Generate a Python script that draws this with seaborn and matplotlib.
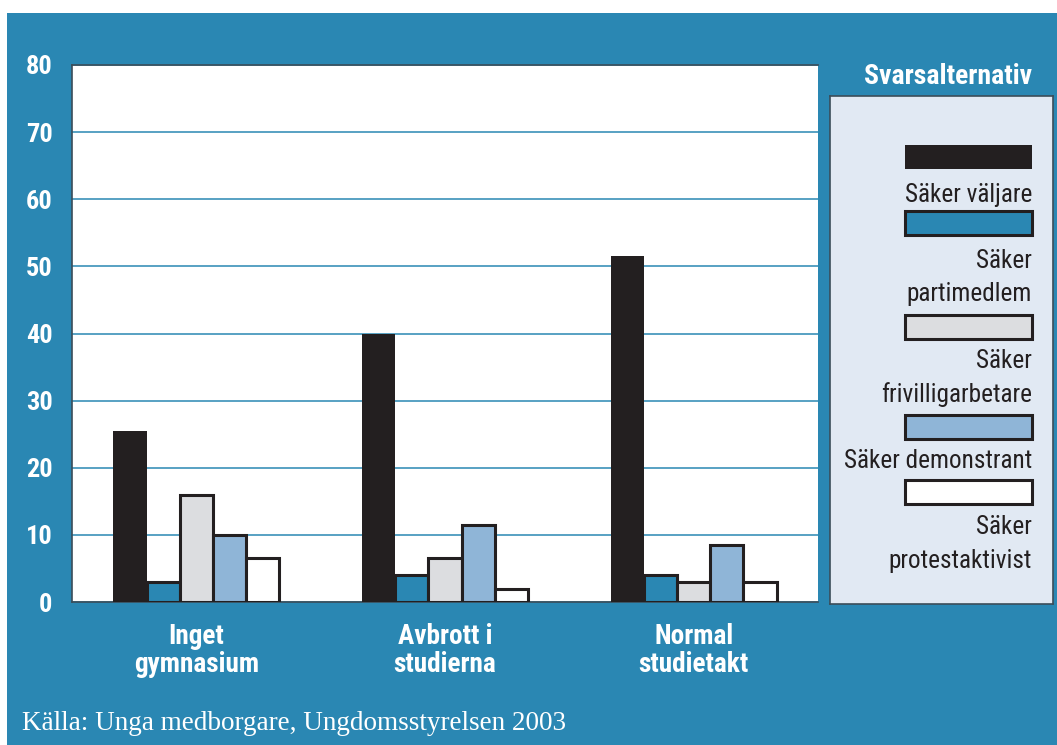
import matplotlib
matplotlib.use("Agg")
import matplotlib.pyplot as plt
from matplotlib.patches import Rectangle
from matplotlib import font_manager
import seaborn as sns
import pandas as pd

categories = ["Inget\ngymnasium", "Avbrott i\nstudierna", "Normal\nstudietakt"]
series = ["Säker väljare", "Säker partimedlem", "Säker frivilligarbetare",
          "Säker demonstrant", "Säker protestaktivist"]
legend_labels = ["Säker väljare", "Säker\npartimedlem", "Säker\nfrivilligarbetare",
                 "Säker demonstrant", "Säker\nprotestaktivist"]
values_valjare = [25.5, 40.0, 51.5]
values_parti = [3.0, 4.0, 4.0]
values_frivillig = [16.0, 6.5, 3.0]
values_demonstrant = [10.0, 11.5, 8.5]
values_protest = [6.5, 2.0, 3.0]
yticks = [0, 10, 20, 30, 40, 50, 60, 70, 80]
source_text = "Källa: Unga medborgare, Ungdomsstyrelsen 2003"
legend_title = "Svarsalternativ"

colors = ["#231f20", "#2a87b3", "#dcdde0", "#8fb5d7", "#ffffff"]
BLUE = "#2a87b3"
DARK = "#231f20"

sns.set_theme(style="white")
installed = {f.name for f in font_manager.fontManager.ttflist}
fams = [f for f in ["Roboto Condensed", "Liberation Sans Narrow", "Roboto"] if f in installed]
plt.rcParams['font.family'] = fams + ['DejaVu Sans']
condensed = bool(fams) and fams[0] != "Roboto"
k = 1.0 if condensed else 0.88

all_vals = [values_valjare, values_parti, values_frivillig, values_demonstrant, values_protest]
rows = []
for s, vals in zip(series, all_vals):
    for c, v in zip(categories, vals):
        rows.append({"Kategori": c, "Serie": s, "Andel": v})
df = pd.DataFrame(rows)

W, H = 1057, 745
fig = plt.figure(figsize=(W / 100, H / 100), dpi=100)
fig.patch.set_facecolor("white")
fig.add_artist(Rectangle((7 / W, 0), 1 - 7 / W, (H - 13) / H, transform=fig.transFigure,
                         facecolor=BLUE, edgecolor="none", zorder=0))

ax = fig.add_axes([72 / W, (H - 602) / H, 746 / W, 537 / H])
sns.barplot(data=df, x="Kategori", y="Andel", hue="Serie", order=categories,
            hue_order=series, palette=colors, width=0.667, errorbar=None,
            legend=False, ax=ax, saturation=1)

for i, bars in enumerate(ax.containers):
    for b in bars:
        if i == 0:
            b.set_edgecolor("none")
        else:
            b.set_edgecolor(DARK)
            b.set_linewidth(2.2)
        b.set_zorder(3)

ax.set_facecolor("white")
ax.set_ylim(0, 80)
ax.set_xlim(-0.5, 2.5)
ax.set_yticks(yticks)
ax.set_yticklabels([str(t) for t in yticks])
ax.yaxis.grid(True, color=BLUE, linewidth=1.1, zorder=0)
ax.set_axisbelow(True)
ax.tick_params(axis="y", length=0, pad=14, labelsize=19 * k, labelcolor="white")
ax.tick_params(axis="x", length=0, pad=15, labelsize=19.6 * k, labelcolor="white")
for lab in ax.get_yticklabels() + ax.get_xticklabels():
    lab.set_fontweight("bold")
for lab in ax.get_xticklabels():
    lab.set_linespacing(1.05)
ax.set_xlabel("")
ax.set_ylabel("")
for side in ["top", "left", "bottom"]:
    ax.spines[side].set_color("#3b4d59")
    ax.spines[side].set_linewidth(1.2)
ax.spines["right"].set_visible(False)

# Legend panel
lax = fig.add_axes([830 / W, (H - 604) / H, 223 / W, 508 / H])
lax.set_xlim(830, 1053)
lax.set_ylim(604, 96)
lax.set_facecolor("#e1e9f3")
for s in lax.spines.values():
    s.set_color("#3b4d59")
    s.set_linewidth(1.2)
lax.set_xticks([])
lax.set_yticks([])

patch_tops = [145, 211, 315, 415, 480]
label_y = [[195], [261, 294], [361, 395], [461], [527, 561]]
for col, top, lbl, ys in zip(colors, patch_tops, legend_labels, label_y):
    lax.add_patch(Rectangle((905, top), 127, 24, facecolor=col,
                            edgecolor=DARK if col != colors[0] else "none",
                            linewidth=2.2))
    for line, y in zip(lbl.split("\n"), ys):
        lax.text(1032, y, line, ha="right", va="center", fontsize=18.2 * k, color=DARK)

fig.text(1032 / W, 1 - 76 / H, legend_title, ha="right", va="center",
         fontsize=20 * k, fontweight="bold", color="white")

fig.text(22 / W, 1 - 723 / H, source_text, ha="left", va="center", fontsize=19.5,
         color="white", family=["Liberation Serif", "DejaVu Serif"])

fig.savefig("out.png", dpi=100)
